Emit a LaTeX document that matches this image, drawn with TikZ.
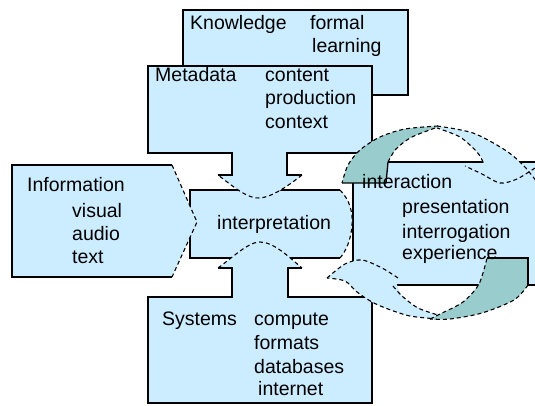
\documentclass[tikz,border=0pt]{standalone}
\usepackage{fontspec}
\setmainfont{Liberation Sans}
\definecolor{paleblue}{RGB}{204,236,255}
\definecolor{tealfill}{RGB}{153,204,204}
\begin{document}
\begin{tikzpicture}[x=1pt,y=-1pt,
  outline/.style={line width=1.3pt, line join=miter},
  joint/.style={line width=1.1pt, dash pattern=on 4pt off 3pt},
  panel/.style={fill=paleblue},
  txt/.style={anchor=base west, inner sep=0pt, font=\fontsize{19.5}{23}\selectfont},
]
\useasboundingbox (0,0) rectangle (535,406);
\clip (0,0) rectangle (535,406);

% Knowledge panel
\path[panel, draw, outline] (183,10) rectangle (408,95);

% Interaction panel (runs off the right edge)
\path[panel, draw, outline] (353,162) rectangle (545,285);

% Central interpretation panel with its bulging right joint
\path[panel] (190,190) -- (340,190) .. controls (350,200) and (353,213) .. (352,225)
  .. controls (351,240) and (346,251) .. (340,258) -- (190,258) -- cycle;
\draw[outline] (340,190) -- (190,190) -- (190,258) -- (340,258);
\draw[joint] (340,190) .. controls (350,200) and (353,213) .. (352,225)
  .. controls (351,240) and (346,251) .. (340,258);

% Metadata panel with its neck
\path[panel] (148,66) -- (372,66) -- (372,153) -- (287,153) -- (287,175) -- (302,175)
  .. controls (288,186) and (272,197) .. (260,198) .. controls (248,199) and (235,188) .. (218,175)
  -- (232,175) -- (232,153) -- (148,153) -- cycle;
\draw[outline] (218,175) -- (232,175) -- (232,153) -- (148,153) -- (148,66) -- (372,66)
  -- (372,153) -- (287,153) -- (287,175) -- (302,175);
\draw[joint] (302,175) .. controls (288,186) and (272,197) .. (260,198)
  .. controls (248,199) and (235,188) .. (218,175);

% Systems panel with its neck
\path[panel] (148,403) -- (148,297) -- (232,297) -- (232,268) -- (218,268)
  .. controls (232,258) and (248,242) .. (260,242) .. controls (274,242) and (290,258) .. (302,268)
  -- (288,268) -- (288,297) -- (372,297) -- (372,403) -- cycle;
\draw[outline] (302,268) -- (288,268) -- (288,297) -- (372,297) -- (372,403) -- (148,403)
  -- (148,297) -- (232,297) -- (232,268) -- (218,268);
\draw[joint] (218,268) .. controls (232,258) and (248,242) .. (260,242)
  .. controls (274,242) and (290,258) .. (302,268);

% Information panel with its pointed joint
\path[panel] (12,165) -- (172,165) -- (197,222) -- (172,277) -- (12,277) -- cycle;
\draw[outline] (172,165) -- (12,165) -- (12,277) -- (172,277);
\draw[joint] (172,165) -- (197,222) -- (172,277);

% Cycle: upper tail over the top right
\path[panel] plot[smooth] coordinates {(437,126) (473,133) (505,150) (524,166) (540,186)}
  -- (540,168)
  -- plot[smooth] coordinates {(535,168) (517,179) (500,183) (482,174) (465,166)}
  -- (484,163)
  -- plot[smooth] coordinates {(483,162) (477,152) (460,137) (437,128)} -- cycle;
\draw[joint] plot[smooth] coordinates {(437,126) (473,133) (505,150) (524,166) (540,186)};
\draw[joint] plot[smooth] coordinates {(535,168) (517,179) (500,183) (482,174) (465,166)};
\draw[joint] plot[smooth] coordinates {(483,162) (477,152) (460,137) (437,128)};

% Cycle: lower tail over the bottom left
\path[panel] plot[smooth] coordinates {(327,278) (345,264) (362,260) (382,268) (396,282)}
  -- plot[smooth] coordinates {(396,282) (402,296) (418,308) (438,315)}
  -- plot[smooth] coordinates {(438,319) (410,316) (388,309) (372,302) (357,292) (345,281) (327,278)}
  -- cycle;
\draw[joint] plot[smooth] coordinates {(327,278) (345,264) (362,260) (382,268) (398,278)};
\draw[joint] plot[smooth] coordinates {(393,286) (402,296) (418,308) (438,315)};
\draw[joint] plot[smooth] coordinates {(438,319) (410,316) (388,309) (372,302) (357,292) (345,281) (327,278)};

% Cycle: upper arrow head
\path[fill=tealfill] (342,183) -- (386,183) -- (388,162)
  -- plot[smooth] coordinates {(388,162) (396,149) (412,137) (438,127)}
  -- plot[smooth] coordinates {(438,126) (405,129) (380,137) (360,150) (348,165) (342,183)} -- cycle;
\draw[outline] (342,183) -- (386,183) -- (388,162);
\draw[joint] plot[smooth] coordinates {(388,162) (396,149) (412,137) (438,127)};
\draw[joint] plot[smooth] coordinates {(438,126) (405,129) (380,137) (360,150) (348,165) (342,183)};

% Cycle: lower arrow head
\path[fill=tealfill] (487,258) -- (528,258) -- (528,285)
  -- plot[smooth] coordinates {(528,285) (514,300) (482,313) (450,319) (430,319)}
  -- plot[smooth] coordinates {(430,319) (440,314) (463,302) (479,284) (487,258)} -- cycle;
\draw[outline] (487,258) -- (528,258) -- (528,285);
\draw[joint] plot[smooth] coordinates {(528,285) (514,300) (482,313) (450,319) (430,319)};
\draw[joint] plot[smooth] coordinates {(430,319) (440,314) (463,302) (479,284) (487,258)};

% Texts
\node[txt] (know) at (190,30) {Knowledge};
\node[txt] (formal) at (310,30) {formal};
\node[txt] (learn) at (312,53) {learning};

\node[txt] (meta) at (155,82) {Metadata};
\node[txt] (content) at (265,82) {content};
\node[txt] (prod) at (265,105) {production};
\node[txt] (ctx) at (265,129) {context};

\node[txt] (info) at (27,192) {Information};
\node[txt] (visual) at (72,217) {visual};
\node[txt] (audio) at (72,240) {audio};
\node[txt] (text) at (72,263) {text};

\node[txt] (interp) at (217,229) {interpretation};

\node[txt] (inter) at (362,189) {interaction};
\node[txt] (pres) at (402,214) {presentation};
\node[txt] (interr) at (402,238) {interrogation};
\node[txt] (exp) at (402,259) {experience};

\node[txt] (sys) at (162,325) {Systems};
\node[txt] (comp) at (254,325) {compute};
\node[txt] (fmt) at (254,349) {formats};
\node[txt] (db) at (254,373) {databases};
\node[txt] (net) at (258,395) {internet};
\end{tikzpicture}
\end{document}
